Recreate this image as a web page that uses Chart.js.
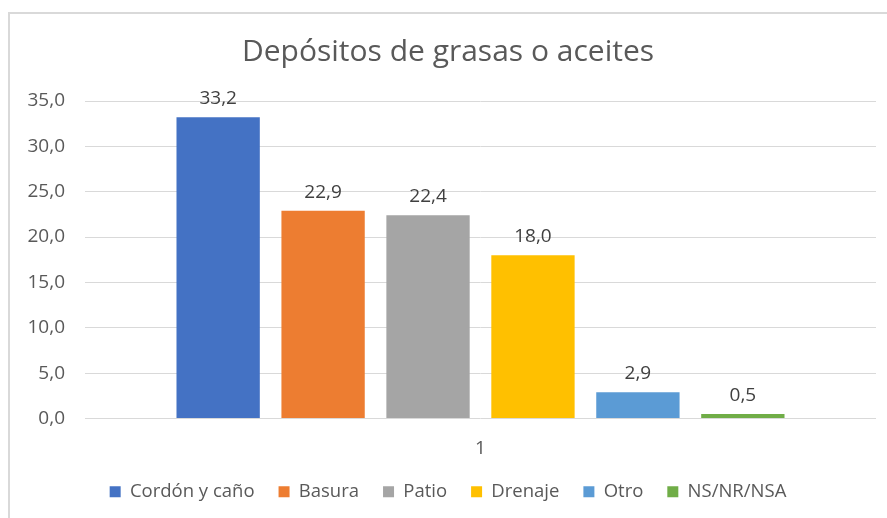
<!DOCTYPE html>
<html>
<head>
<meta charset="utf-8">
<script src="https://cdn.jsdelivr.net/npm/chart.js@4"></script>
<style>
    html, body { margin: 0; padding: 0; background: #fff; overflow: hidden; }
    #frame {
        position: absolute;
        left: 8px;
        top: 12px;
        border-left: 2px solid #d9d9d9;
        border-top: 2px solid #d9d9d9;
    }
    canvas { display: block; }
</style>
</head>
<body>
<div id="frame">
    <canvas id="barChart" width="891" height="504"></canvas>
</div>
<script>
// Chart data
const categories = ["1"];
const seriesNames = ["Cordón y caño", "Basura", "Patio", "Drenaje", "Otro", "NS/NR/NSA"];
const seriesValues = [33.2, 22.9, 22.4, 18.0, 2.9, 0.5];
const seriesColors = ["#4472C4", "#ED7D31", "#A5A5A5", "#FFC000", "#5B9BD5", "#70AD47"];
const yTicks = [0, 5, 10, 15, 20, 25, 30, 35];

const FONT = "'Open Sans', sans-serif";
const TEXT = "#595959";

function fmt(v) {
    return v.toFixed(1).replace(".", ",");
}

// Draws the value above each bar
const valueLabels = {
    id: "valueLabels",
    afterDatasetsDraw(chart) {
        const ctx = chart.ctx;
        ctx.save();
        ctx.font = "19px " + FONT;
        ctx.fillStyle = "#404040";
        ctx.textAlign = "center";
        ctx.textBaseline = "bottom";
        chart.data.datasets.forEach((ds, i) => {
            const meta = chart.getDatasetMeta(i);
            meta.data.forEach((bar, j) => {
                ctx.fillText(fmt(ds.data[j]), bar.x, bar.y - 9);
            });
        });
        ctx.restore();
    }
};

const ctx = document.getElementById("barChart").getContext("2d");

new Chart(ctx, {
    type: "bar",
    data: {
        labels: categories,
        datasets: seriesNames.map((name, i) => ({
            label: name,
            data: [seriesValues[i]],
            backgroundColor: seriesColors[i],
            borderWidth: 0,
            categoryPercentage: 0.796,
            barPercentage: 0.794,
        })),
    },
    options: {
        responsive: false,
        animation: false,
        layout: {
            padding: { left: 10, right: 25, top: 7, bottom: 7 },
        },
        plugins: {
            title: {
                display: true,
                text: "Depósitos de grasas o aceites",
                color: TEXT,
                font: { family: FONT, size: 30, weight: "normal" },
                padding: { top: 13, bottom: 31 },
            },
            legend: {
                position: "bottom",
                labels: {
                    color: TEXT,
                    font: { family: FONT, size: 18.5 },
                    boxWidth: 11,
                    boxHeight: 11,
                    padding: 24,
                },
            },
            tooltip: { enabled: false },
        },
        scales: {
            x: {
                grid: { display: false, drawTicks: false },
                border: { display: false },
                ticks: {
                    color: TEXT,
                    font: { family: FONT, size: 19 },
                    padding: 19,
                },
                afterFit(scale) {
                    scale.height = 40;
                },
            },
            y: {
                min: 0,
                max: 35,
                afterBuildTicks(axis) {
                    axis.ticks = yTicks.map((v) => ({ value: v }));
                },
                grid: { color: "#d9d9d9", lineWidth: 1, drawTicks: false },
                border: { display: false },
                ticks: {
                    color: TEXT,
                    font: { family: FONT, size: 19 },
                    padding: 20,
                    callback: (v) => fmt(v),
                },
                afterFit(scale) {
                    scale.width = 65;
                },
            },
        },
    },
    plugins: [valueLabels],
});
</script>
</body>
</html>
